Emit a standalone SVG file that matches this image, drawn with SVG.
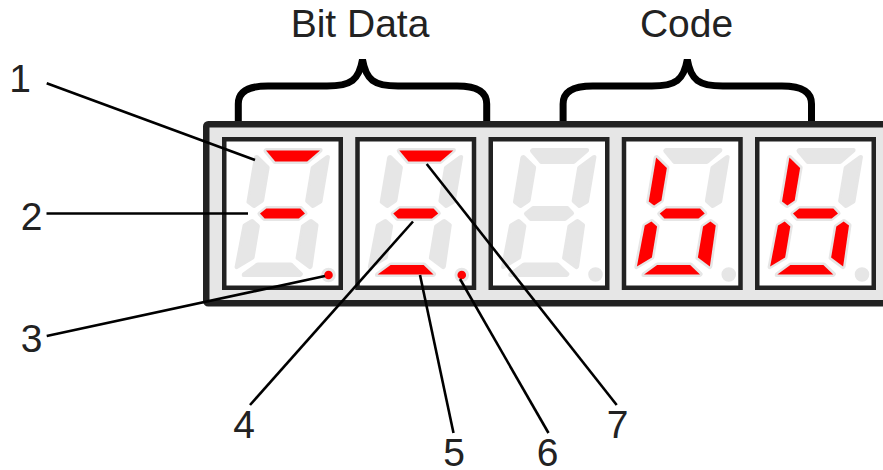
<svg xmlns="http://www.w3.org/2000/svg" width="883" height="470" viewBox="0 0 883 470">
<style>
.txt{font-family:"Liberation Sans",Arial,sans-serif;font-size:39px;fill:#222;text-anchor:middle}
.panel{fill:#e6e6e6;stroke:#222;stroke-width:6.5}
.box{fill:#fff;stroke:#222;stroke-width:4.5}
.seg{stroke:#e6e6e6;stroke-width:5;stroke-linejoin:round;paint-order:stroke}
.dot{stroke:#e6e6e6;stroke-width:6;paint-order:stroke}
.off{fill:#e6e6e6}
.on{fill:#ff0000}
.lead{stroke:#000;stroke-width:2.6;fill:none}
.brace{fill:none;stroke:#000;stroke-width:7}
</style>
<defs>
<polygon id="sa" points="-27,-63 27,-63 16,-52 -16,-52"/>
<polygon id="sb" points="35.5,-56 23,-45.5 23,-13 29.5,-8 35.5,-12"/>
<polygon id="sc" points="29.5,8 23,13 23,44 36.5,53 35.5,12"/>
<polygon id="sd" points="-16.5,51.5 16.5,51.5 28,61 -28,61"/>
<polygon id="se" points="-29.5,8 -23,13 -23,44 -36.5,53 -35.5,12"/>
<polygon id="sf" points="-35.5,-56 -23,-45.5 -23,-13 -29.5,-8 -35.5,-12"/>
<polygon id="sg" points="-22.5,0 -17,-5 17,-5 22.5,0 17,5 -17,5"/>
<circle id="dp" r="4.3"/>
<path id="brace" d="M238.3,121 V104 C238.3,91 249,86 268,86 H327 C351,86 359,80 362.5,59.5 C366,80 374,86 398,86 H457 C476,86 486.7,91 486.7,104 V121"/>
</defs>

<g id="panel">
<rect class="panel" x="206.25" y="124.3" width="700" height="178.9" rx="2"/>
</g>

<g id="braces">
<use href="#brace" class="brace"/>
<use href="#brace" class="brace" transform="translate(324.8,0)"/>
</g>

<g id="digit1" transform="translate(282.5,213.5)">
<rect class="box" x="-58.25" y="-74.25" width="116.5" height="148.5"/>
<g transform="skewX(-9.5)">
<use href="#sa" class="seg on"/><use href="#sb" class="seg off"/><use href="#sc" class="seg off"/><use href="#sd" class="seg off"/><use href="#se" class="seg off"/><use href="#sf" class="seg off"/><use href="#sg" class="seg on"/>
</g>
<use href="#dp" class="dot on" x="46" y="61.5"/>
</g>

<g id="digit2" transform="translate(415.75,213.5)">
<rect class="box" x="-58.25" y="-74.25" width="116.5" height="148.5"/>
<g transform="skewX(-9.5)">
<use href="#sa" class="seg on"/><use href="#sb" class="seg off"/><use href="#sc" class="seg off"/><use href="#sd" class="seg on"/><use href="#se" class="seg off"/><use href="#sf" class="seg off"/><use href="#sg" class="seg on"/>
</g>
<use href="#dp" class="dot on" x="46" y="61.5"/>
</g>

<g id="digit3" transform="translate(549,213.5)">
<rect class="box" x="-58.25" y="-74.25" width="116.5" height="148.5"/>
<g transform="skewX(-9.5)">
<use href="#sa" class="seg off"/><use href="#sb" class="seg off"/><use href="#sc" class="seg off"/><use href="#sd" class="seg off"/><use href="#se" class="seg off"/><use href="#sf" class="seg off"/><use href="#sg" class="seg off"/>
</g>
<use href="#dp" class="dot off" x="46.5" y="61"/>
</g>

<g id="digit4" transform="translate(682.25,213.5)">
<rect class="box" x="-58.25" y="-74.25" width="116.5" height="148.5"/>
<g transform="skewX(-9.5)">
<use href="#sa" class="seg off"/><use href="#sb" class="seg off"/><use href="#sc" class="seg on"/><use href="#sd" class="seg on"/><use href="#se" class="seg on"/><use href="#sf" class="seg on"/><use href="#sg" class="seg on"/>
</g>
<use href="#dp" class="dot off" x="46.5" y="61"/>
</g>

<g id="digit5" transform="translate(815.5,213.5)">
<rect class="box" x="-58.25" y="-74.25" width="116.5" height="148.5"/>
<g transform="skewX(-9.5)">
<use href="#sa" class="seg off"/><use href="#sb" class="seg off"/><use href="#sc" class="seg on"/><use href="#sd" class="seg on"/><use href="#se" class="seg on"/><use href="#sf" class="seg on"/><use href="#sg" class="seg on"/>
</g>
<use href="#dp" class="dot off" x="46.5" y="61"/>
</g>

<g id="connectors">
<line class="lead" x1="46.7" y1="83.3" x2="255" y2="160"/>
<line class="lead" x1="46.5" y1="213.5" x2="248" y2="213.5"/>
<line class="lead" x1="46.7" y1="336" x2="325" y2="276"/>
<line class="lead" x1="250" y1="405" x2="413" y2="221.5"/>
<line class="lead" x1="453.5" y1="433" x2="420" y2="275"/>
<line class="lead" x1="548.5" y1="433" x2="460" y2="279"/>
<line class="lead" x1="616.7" y1="405" x2="426.7" y2="164"/>
</g>

<g id="labels">
<text class="txt" x="360" y="36.5">Bit Data</text>
<text class="txt" x="686.5" y="36.5">Code</text>
<text class="txt" x="20" y="92.3">1</text>
<text class="txt" x="31.7" y="229.5">2</text>
<text class="txt" x="31.7" y="351.5">3</text>
<text class="txt" x="244" y="437.5">4</text>
<text class="txt" x="454" y="465.5">5</text>
<text class="txt" x="547.5" y="465.5">6</text>
<text class="txt" x="617.5" y="438">7</text>
</g>
</svg>
